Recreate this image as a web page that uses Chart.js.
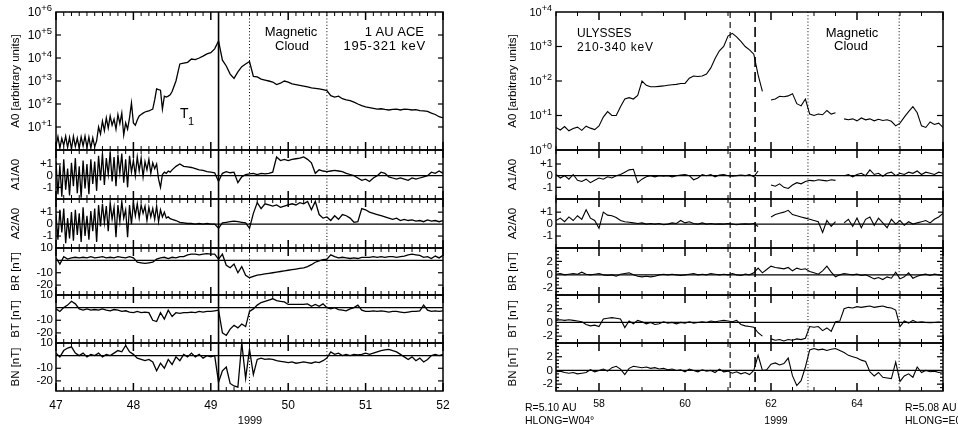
<!DOCTYPE html>
<html><head><meta charset="utf-8"><title>ACE and Ulysses particle anisotropies</title>
<script src="https://cdn.jsdelivr.net/npm/chart.js@4.4.1/dist/chart.umd.min.js"></script>
<style>
html,body{margin:0;padding:0;background:#fff;overflow:hidden;}
#wrap{position:relative;width:958px;height:428px;}
canvas{position:absolute;top:0;}
</style></head><body>
<div id="wrap">
<canvas id="ace" width="479" height="428" style="left:0;width:479px;height:428px"></canvas>
<canvas id="uly" width="479" height="428" style="left:479px;width:479px;height:428px"></canvas>
</div>
<script>
// ---------------- DATA : ACE (1 AU), day of 1999 ----------------
// particle panels (finer sampling in the noisy early part)
const aceTimeA = [47,47.025,47.05,47.075,47.1,47.125,47.15,47.175,47.2,47.225,
47.25,47.275,47.3,47.325,47.35,47.375,47.4,47.425,47.45,47.475,
47.5,47.525,47.55,47.575,47.6,47.625,47.65,47.675,47.7,47.725,
47.75,47.775,47.8,47.825,47.85,47.875,47.9,47.925,47.95,47.975,
48,48.025,48.05,48.075,48.1,48.125,48.15,48.175,48.2,48.225,
48.25,48.275,48.3,48.325,48.35,48.375,48.4,48.425,48.45,48.475,
48.5,
48.55,48.6,48.65,48.7,48.75,48.8,48.85,48.9,48.95,
49,49.05,49.1,49.15,49.2,49.25,49.3,49.35,49.4,49.45,
49.5,49.55,49.6,49.65,49.7,49.75,49.8,49.85,49.9,49.95,
50,50.05,50.1,50.15,50.2,50.25,50.3,50.35,50.4,50.45,
50.5,50.55,50.6,50.65,50.7,50.75,50.8,50.85,50.9,50.95,
51,51.05,51.1,51.15,51.2,51.25,51.3,51.35,51.4,51.45,
51.5,51.55,51.6,51.65,51.7,51.75,51.8,51.85,51.9,51.95,
52];
const aceA0 = [1.5,3.8,1.2,3.2,1.6,4.0,1.3,3.5,1.1,3.9,
1.4,3.3,1.2,3.7,1.5,4.0,1.3,3.6,1.2,3.4,
1.4,2.5,10,5,18,7,25,9,30,12,
22,8,35,14,40,4.5,15,8,25,110,
15,12,20,30,35,40,45,48,50,55,
60,150,450,420,400,60,220,200,220,250,
350,
1000,5500,6000,6500,9000,8500,10000,12000,15000,
17000,25000,55000,8000,4500,2000,1300,2500,4200,5500,
7000,1600,1500,1200,1100,1000,900,700,800,1000,
900,750,700,650,600,550,500,480,450,420,
380,230,200,220,170,150,140,120,100,85,
75,70,65,60,62,58,55,58,60,55,
60,58,55,57,52,50,48,40,35,28,
25];
const aceA1 = [1.2,-1.6,0.9,-1.8,1.4,-1.2,0.6,-1.7,1.1,-0.9,
1.5,-1.5,0.8,-1.9,1.3,-1.1,1.0,-1.6,1.4,-0.7,
1.2,-1.3,1.7,-0.4,1.9,-0.8,1.5,0.1,2.0,-0.5,
1.6,-0.9,1.8,0.2,1.9,-0.6,1.4,-1.0,1.7,0.3,
1.3,0.0,1.6,0.4,1.5,-0.1,1.2,0.5,1.4,0.2,
1.1,0.6,1.0,-0.3,-1.0,0.1,0.3,0.2,0.4,0.3,
0.5,
0.8,1.0,0.8,0.75,0.7,0.6,0.5,0.45,0.35,
0.3,0.25,-0.5,0.2,0.35,0.25,0.3,-0.6,-0.1,0.1,
0.15,0.2,0.1,0.2,0.15,0.2,0.3,1.6,1.3,1.4,
1.3,1.4,1.45,1.5,1.6,1.4,1.1,0.2,0.5,0.4,
0.35,0.4,0.45,0.4,0.35,0.2,0.1,0.0,-0.2,-0.4,
-0.3,-0.5,-0.2,0.0,0.3,0.2,-0.1,-0.2,-0.3,-0.2,
-0.3,-0.4,-0.2,-0.3,-0.2,-0.1,0.0,0.3,0.2,0.4,
0.2];
const aceA2 = [0.8,-1.3,1.2,-0.7,1.3,-1.6,0.5,-1.2,1.0,-1.4,
1.2,-0.9,0.9,-1.5,1.4,-1.0,0.7,-1.3,1.1,-0.6,
1.3,-1.5,1.6,-0.2,1.7,0.1,1.5,-0.6,1.8,0.4,
1.4,-1.1,1.6,0.2,1.9,0.5,1.2,-1.1,1.6,0.0,
1.8,0.7,1.7,0.5,1.6,0.9,1.5,0.3,1.4,0.6,
1.3,0.4,1.5,0.2,1.2,0.6,1.0,0.5,0.6,0.45,
0.4,
0.3,0.15,0.1,0.05,0.05,0.0,0.05,0.0,0.05,
0.0,0.0,-0.35,0.1,0.15,0.2,0.25,0.2,0.15,0.1,
-0.35,0.9,1.8,1.3,1.7,1.6,1.5,1.6,1.4,1.5,
1.6,1.7,1.6,1.8,1.7,1.9,1.2,1.9,0.8,0.5,
0.6,0.3,0.7,0.4,0.8,0.7,0.5,0.15,0.2,1.3,
1.2,1.0,0.9,0.8,0.7,0.6,0.5,0.4,0.5,0.3,
0.4,0.3,0.35,0.25,0.3,0.2,0.35,0.25,0.3,0.2,
0.3];
// magnetic field panels
const aceTimeB = [47,47.05,47.1,47.15,47.2,47.25,47.3,47.35,47.4,47.45,
47.5,47.55,47.6,47.65,47.7,47.75,47.8,47.85,47.9,47.95,
48,48.05,48.1,48.15,48.2,48.25,48.3,48.35,48.4,48.45,
48.5,48.55,48.6,48.65,48.7,48.75,48.8,48.85,48.9,48.95,
49,49.05,49.1,49.15,49.2,49.25,49.3,49.35,49.4,49.45,
49.5,49.55,49.6,49.65,49.7,49.75,49.8,49.85,49.9,49.95,
50,50.05,50.1,50.15,50.2,50.25,50.3,50.35,50.4,50.45,
50.5,50.55,50.6,50.65,50.7,50.75,50.8,50.85,50.9,50.95,
51,51.05,51.1,51.15,51.2,51.25,51.3,51.35,51.4,51.45,
51.5,51.55,51.6,51.65,51.7,51.75,51.8,51.85,51.9,51.95,
52];
const aceBR = [2,-3,3,1,2,2.5,2,2.5,2,3,
2,2.5,3,2,2.5,2,3,2.5,2,3,
2,-1.5,-2,-2.5,-2,-1.5,1,2,2.5,1.5,
2.5,2,3,3,4.5,5,5,4.5,5,5.5,
5,5,1,5,-4,-6,-3,-10,-5,-12,
-14,-13,-12,-11.5,-11,-10.5,-10,-9.5,-9,-8.5,
-8,-7.5,-7,-6.5,-6,-5,-3.5,-1.5,-0.5,0.5,
1,4.5,3,2,2.5,2,1.5,2,1.5,2.5,
2.5,2.5,3,2.5,3,2.5,3,3,2.5,3,
3.5,4.5,5,4.5,4,2.5,3,1.5,3.5,2,
4];
const aceBT = [-1,-3,0,2,5,3,-1,-2,-1,-2,
-1.5,-2,-1,-2,-2.5,-1.5,-2,-3,-2.5,-3.5,
-4,-3,-4,-3.5,-4,-10,-11,-4,-9,-2,
-7,-4,-4.5,-4,-4,-3.5,-4,-3,-3.5,-3,
-3,-2.5,-2,-20,-22,-17,-14,-16,-13,-15,
-3,-1,2,4,5,6,7,5.5,5,4.5,
2.5,2.5,2.5,2.5,2.5,3,1,2.5,1,3,
0,-1,0,-1.5,-2,-2.5,-1,0,2,-2,
-3,-3,-2.5,-3,-2.5,-3,-3.5,-3,-3,-3.5,
-4,-3.5,-3,-3,-2.5,2,-2,-3,-2.5,-3,
-2.5];
const aceBN = [2,-1,4,6,7,2,0,2,-1,1,
0,2,-1,1,0,2,4,3,8,3,
1,-2,-3,-4,-3,-5,-12,-6,-10,-3,
-7,-1,-4,1,-1,2,-1,1,-2,0,
-1,0,-21,-12,-9,-22,-24,-25,10,-18,
5,-15,-3,-2,-3,-2.5,-3,-4,-4.5,-5,
-5.5,-5,-6,-5.5,-5,-5.5,-6,-5,-5.5,-4,
-2,3,1,2,0,1,0,1,0.5,1,
2,1,2,3,4,4.5,5,4,3,1,
-1,-3,-1,-4,-2,-5,-3,0,1,0,
1];

// ---------------- DATA : Ulysses (5.1 AU), day of 1999 ----------------
const ulyTime = [57,57.1,57.2,57.3,57.4,57.5,57.6,57.7,57.8,57.9,
58,58.1,58.2,58.3,58.4,58.5,58.6,58.7,58.8,58.9,
59,59.1,59.2,59.3,59.4,59.5,59.6,59.7,59.8,59.9,
60,60.1,60.2,60.3,60.4,60.5,60.6,60.7,60.8,60.9,
61,61.1,61.2,61.3,61.4,61.5,61.6,61.7,61.8,61.9,
62,62.1,62.2,62.3,62.4,62.5,62.6,62.7,62.8,62.9,
63,63.1,63.2,63.3,63.4,63.5,63.6,63.7,63.8,63.9,
64,64.1,64.2,64.3,64.4,64.5,64.6,64.7,64.8,64.9,
65,65.1,65.2,65.3,65.4,65.5,65.6,65.7,65.8,65.9,
66];
const ulyA0 = [4.5,3.8,4.8,3.6,4.2,4.6,3.7,4.9,4.3,3.9,
5.0,9,13,10,10,18,30,33,30,38,
100,75,68,68,70,72,75,78,80,85,
85,120,140,135,140,160,240,450,750,1000,
2000,2400,1900,1400,1000,800,600,150,50,null,
28,30,36,35,37,43,22,19,30,11,
10,11,10.5,14,11,12,null,8,7.5,8,
7,8.5,7.5,8,7,7.8,7.2,7.5,6.8,5,
6,9,13,18,12,5,4.5,6.5,5.5,6,
4.5];
const ulyA1 = [0.1,-0.2,0.0,-0.3,0.1,-0.4,-0.5,-0.3,-0.6,-0.4,
-0.2,-0.3,-0.1,-0.2,0.0,0.1,0.3,0.5,0.55,-0.6,
-0.3,-0.1,0.0,-0.1,0.0,-0.05,0.0,-0.1,0.0,0.05,
0.1,0.0,-0.35,-0.2,0.1,0.0,0.1,-0.1,0.05,0.1,
0.0,-0.05,0.0,0.05,0.0,0.1,-0.1,0.4,null,null,
-0.8,-0.9,-0.7,-1.0,-1.1,-0.8,-0.6,-0.7,-0.5,-0.4,
-0.45,-0.35,-0.4,-0.45,-0.35,-0.4,null,0.0,0.1,-0.1,
0.1,0.2,0.0,0.5,0.1,0.2,-0.05,0.2,0.3,0.0,
0.2,0.1,0.3,0.2,0.4,0.1,0.3,0.2,0.1,0.3,
0.2];
const ulyA2 = [0.3,0.5,0.2,0.6,0.3,0.7,0.4,1.2,0.5,0.3,
-0.35,1.0,0.75,0.7,0.55,0.3,0.2,0.15,0.1,0.05,
0.1,0.0,0.05,0.0,0.05,-0.05,0.0,0.1,0.05,0.3,
0.1,0.2,0.05,0.0,0.1,0.0,0.05,0.0,0.02,0.0,
0.05,0.0,-0.05,0.0,0.02,0.0,0.05,-0.2,null,null,
0.6,0.8,0.9,1.0,1.15,0.8,0.7,0.6,0.5,0.4,
0.3,0.2,-0.7,0.3,-0.2,0.2,null,0.1,0.4,-0.2,
0.5,-0.3,0.4,0.6,-0.1,0.5,0.1,-0.3,0.4,0.0,
0.3,-0.1,0.2,0.0,0.1,0.2,0.3,0.1,0.4,0.6,
0.9];
const ulyBR = [0.1,0.2,0.0,0.1,0.2,0.1,0.4,0.1,0.0,0.1,
0.2,0.0,-0.1,0.0,-0.2,0.1,0.2,0.3,0.0,-0.2,
-0.3,-0.2,-0.3,-0.2,0.0,0.1,0.0,0.1,0.0,-0.1,
0.0,0.1,0.2,0.0,0.1,0.0,0.2,0.1,0.0,0.1,
0.0,0.2,0.0,-0.1,0.1,0.0,0.3,1.0,0.3,0.8,
1.3,1.1,1.0,0.9,1.1,0.6,1.0,0.8,0.9,0.5,
0.3,0.1,0.6,1.3,0.4,-0.3,0.0,0.2,0.1,0.0,
0.1,-0.1,0.0,-0.3,-0.6,-0.4,-0.7,-0.3,-0.5,0.4,
-0.6,-0.3,0.3,-0.5,-0.2,0.0,0.1,-0.1,0.1,0.0,
-0.1];
const ulyBT = [0.3,0.4,0.3,0.4,0.3,0.2,0.1,-0.3,-0.5,-0.4,
-0.6,0.5,0.6,0.7,0.6,0.5,-0.75,0.2,-0.2,0.3,
0.1,-0.2,0.0,-0.3,-0.2,0.1,-0.1,0.0,-0.2,0.0,
-0.1,0.1,-0.1,0.0,0.1,0.0,0.2,0.1,0.2,0.3,
0.2,0.1,0.3,-0.3,-0.5,-0.6,-0.7,-1.5,-2.0,null,
-2.4,-2.6,-2.5,-2.7,-2.5,-2.6,-2.4,-2.5,-2.3,-0.6,
-0.7,-0.6,-1.2,-0.8,-1.3,0.1,0.2,2.0,2.2,2.1,
2.3,2.2,2.3,2.4,2.2,2.3,2.4,2.2,2.1,1.8,
-0.6,0.2,-0.1,0.3,0.0,0.1,0.0,-0.05,0.0,0.05,
0.0];
const ulyBN = [-0.2,-0.1,-0.3,-0.4,-0.3,-0.5,-0.4,-0.3,0.1,-0.2,
0.0,0.2,-0.1,0.4,0.6,0.2,-0.6,0.3,0.6,0.5,
0.4,0.5,0.3,0.4,0.2,0.3,0.1,0.2,0.0,0.1,
-0.2,0.2,0.0,-0.2,0.1,-0.1,0.0,-0.3,0.2,-0.2,
-0.1,-0.4,-0.2,-0.5,-0.3,-0.6,0.0,2.2,0.0,0.1,
0.9,1.1,0.8,1.0,1.8,-0.8,-2.2,-1.5,0.5,3.0,
3.2,3.0,3.1,2.9,3.1,3.2,2.9,2.6,2.2,2.0,
1.8,1.5,1.3,-0.2,-0.8,-0.3,-1.0,-1.1,-1.2,1.2,
-1.6,-0.8,-0.5,-1.0,0.5,-0.3,0.0,-0.2,-0.1,-0.3,
-0.2];

// ---------------- tick labels / categories ----------------
const panelTitles = ['A0 [arbitrary units]','A1/A0','A2/A0','BR [nT]','BT [nT]','BN [nT]'];
const aceDayTicks = [47,48,49,50,51,52];
const ulyDayTicks = [58,60,62,64];
const aceLogExps = [1,2,3,4,5,6];
const ulyLogExps = [0,1,2,3,4];
const ratioTicks = [-1,0,1];
const aceFieldTicks = [-20,-10,10];
const ulyFieldTicks = [-2,0,2];
const aceEvents = {solid:[49.1], dotted:[49.5,50.5]};
const ulyEvents = {dashed:[61.05], longDashed:[61.63], dotted:[62.86,64.98]};

// ---------------- drawing ----------------
const FONT = '"Liberation Sans", Arial, Helvetica, sans-serif';
const IDS = ['yA0','yA1','yA2','yBR','yBT','yBN'];
function seg(ctx,x1,y1,x2,y2){ctx.beginPath();ctx.moveTo(x1,y1);ctx.lineTo(x2,y2);ctx.stroke();}
function txt(ctx,s,x,y,size,align,spacing){
  ctx.font = size+'px '+FONT; ctx.textAlign = align||'left'; ctx.textBaseline='alphabetic';
  try{ ctx.letterSpacing = (spacing||0)+'px'; }catch(e){}
  ctx.fillText(s,x,y);
  try{ ctx.letterSpacing = '0px'; }catch(e){}
}
function drawPow(ctx,k,xr,y,base,sup){
  const s = '+'+k;
  ctx.font = sup+'px '+FONT; const ws = ctx.measureText(s).width;
  ctx.font = base+'px '+FONT; const wb = ctx.measureText('10').width;
  ctx.textAlign='left'; ctx.textBaseline='alphabetic';
  ctx.fillText('10', xr-ws-wb, y+base*0.36);
  ctx.font = sup+'px '+FONT; ctx.fillText(s, xr-ws, y-1);
}

function makeFigure(canvasId, f){
  const series = [f.a0,f.a1,f.a2,f.br,f.bt,f.bn];
  const times = [f.timeA,f.timeA,f.timeA,f.timeB,f.timeB,f.timeB];
  const datasets = series.map((v,i)=>({
    data: times[i].map((t,j)=>({x:t,y:v[j]})),
    xAxisID:'x', yAxisID:IDS[i],
    borderColor:'#000', backgroundColor:'#000', borderWidth:f.lw,
    pointRadius:0, tension:0, spanGaps:false, fill:false
  }));
  const weights = [138,49,49,47,48,48];
  const scales = {
    x:{type:'linear', position:'bottom', min:f.xmin, max:f.xmax,
      afterFit:s=>{s.height=37;},
      afterBuildTicks:s=>{s.ticks=f.xTicks.map(v=>({value:v}));},
      grid:{display:false,drawTicks:false}, border:{display:false},
      ticks:{autoSkip:false,maxRotation:0,padding:f.xPad,color:'#000',font:{family:FONT,size:f.xFont},callback:v=>String(v)}
    }
  };
  IDS.forEach((id,i)=>{
    const isLog = i===0;
    scales[id] = {
      type: isLog?'logarithmic':'linear', position:'left', stack:'panels',
      stackWeight:weights[i], weight:6-i, min:f.ranges[i][0], max:f.ranges[i][1],
      afterFit:s=>{s.width=f.yw;},
      afterBuildTicks:s=>{ if(!isLog) s.ticks=f.yTicks[i].map(v=>({value:v})); },
      grid:{display:false,drawTicks:false}, border:{display:false},
      ticks:{display:!isLog,autoSkip:false,padding:3,color:'#000',font:{family:FONT,size:f.yFont},
        callback:v=> (i<=2 && v>0) ? '+'+v : String(v)},
      title:{display:true,text:panelTitles[i],color:'#000',font:{family:FONT,size:11.5},padding:{top:f.titlePad,bottom:0}}
    };
  });
  const plugin = {
    id:'panels',
    beforeDatasetsDraw(chart){
      const {ctx,chartArea:ca}=chart;
      ctx.save(); ctx.strokeStyle='#000'; ctx.lineWidth=1.2;
      IDS.slice(1).forEach(id=>{
        const y = chart.scales[id].getPixelForValue(0);
        seg(ctx,ca.left,y,ca.right,y);
      });
      ctx.restore();
    },
    afterDraw(chart){
      const {ctx,chartArea:ca}=chart; const xs=chart.scales.x;
      ctx.save(); ctx.strokeStyle='#000'; ctx.fillStyle='#000';
      const vl = (list,dash,w)=>{ (list||[]).forEach(d=>{ const px=xs.getPixelForValue(d);
        ctx.setLineDash(dash); ctx.lineWidth=w; seg(ctx,px,ca.top,px,ca.bottom); }); ctx.setLineDash([]); };
      vl(f.events.solid,[],1.6);
      vl(f.events.dashed,[6,4],1.1);
      vl(f.events.longDashed,[10,5],1.6);
      vl(f.events.dotted,[1,2.2],1);
      IDS.forEach((id,i)=>{
        const s=chart.scales[id];
        ctx.lineWidth=1.5;
        ctx.strokeRect(ca.left,s.top,ca.right-ca.left,s.bottom-s.top);
        const n=Math.round((f.xmax-f.xmin)/f.xMinor);
        for(let k=0;k<=n;k++){
          const v=f.xmin+k*f.xMinor; const px=xs.getPixelForValue(v);
          const major=f.isMajorX(v); const len=major?8:4;
          ctx.lineWidth=major?1.5:1;
          seg(ctx,px,s.top,px,s.top+len); seg(ctx,px,s.bottom-len,px,s.bottom);
        }
        f.yMarks(i).forEach(([v,len])=>{
          const py=s.getPixelForValue(v); ctx.lineWidth=1.2;
          seg(ctx,ca.left,py,ca.left+len,py); seg(ctx,ca.right-len,py,ca.right,py);
        });
      });
      const sA0=chart.scales.yA0;
      f.logExps.forEach(k=>drawPow(ctx,k,ca.left-4,sA0.getPixelForValue(Math.pow(10,k)),f.powBase,f.powSup));
      f.annotate(ctx,chart);
      ctx.restore();
    }
  };
  return new Chart(document.getElementById(canvasId),{
    type:'line', data:{datasets},
    options:{responsive:false,devicePixelRatio:1,animation:false,events:[],
      layout:{padding:{left:0,top:12,right:f.padRight,bottom:0}},
      plugins:{legend:{display:false},tooltip:{enabled:false}},
      scales},
    plugins:[plugin]
  });
}

makeFigure('ace',{
  timeA:aceTimeA, timeB:aceTimeB, a0:aceA0, a1:aceA1, a2:aceA2, br:aceBR, bt:aceBT, bn:aceBN,
  xmin:47, xmax:52, xTicks:aceDayTicks, xMinor:0.1,
  isMajorX:v=>Math.abs(v-Math.round(v))<1e-6,
  ranges:[[1,1e6],[-2,2.2],[-2,2.1],[-28,10],[-28,10],[-28,10]],
  yTicks:[[],ratioTicks,ratioTicks,aceFieldTicks,aceFieldTicks,aceFieldTicks],
  yMarks:i=> i===0 ? [1,2,3,4,5].map(k=>[Math.pow(10,k),5])
            : i<=2 ? [[-1,5],[1,5]] : [[-20,5],[-10,5]],
  logExps:aceLogExps, powBase:12, powSup:9.5,
  events:aceEvents, yw:56, padRight:36, titlePad:9, xPad:7, xFont:12, yFont:11.5, lw:1.3,
  annotate:(ctx)=>{
    txt(ctx,'Magnetic',291,36,13,'center');
    txt(ctx,'Cloud',292,50,13,'center');
    txt(ctx,'1 AU ACE',424,36,13,'right');
    txt(ctx,'195-321 keV',426,50,13,'right',0.8);
    txt(ctx,'T',180,118,14,'left');
    txt(ctx,'1',188,125,11,'left');
    txt(ctx,'1999',250,424,11,'center');
  }
});

makeFigure('uly',{
  timeA:ulyTime, timeB:ulyTime, a0:ulyA0, a1:ulyA1, a2:ulyA2, br:ulyBR, bt:ulyBT, bn:ulyBN,
  xmin:57, xmax:66, xTicks:ulyDayTicks, xMinor:0.5,
  isMajorX:v=>Math.abs(v-Math.round(v))<1e-6 && Math.round(v)%2===0,
  ranges:[[1,1e4],[-2,2.2],[-2,2.1],[-3,4],[-3,4],[-3,4]],
  yTicks:[[],ratioTicks,ratioTicks,ulyFieldTicks,ulyFieldTicks,ulyFieldTicks],
  yMarks:i=>{
    if(i===0) return [1,2,3].map(k=>[Math.pow(10,k),6]);
    if(i<=2) return [[-1,5],[1,5]];
    const m=[]; for(let k=-5;k<=7;k++){ if(k===0) continue; m.push([k*0.5, (k%4===0)?6:3]); }
    return m;
  },
  logExps:ulyLogExps, powBase:11, powSup:9,
  events:ulyEvents, yw:77, padRight:15, titlePad:27, xPad:7, xFont:10.5, yFont:11.5, lw:1.1,
  annotate:(ctx)=>{
    txt(ctx,'ULYSSES',98,37,12,'left');
    txt(ctx,'210-340 keV',98,51,12,'left',0.8);
    txt(ctx,'Magnetic',373,37,13,'center');
    txt(ctx,'Cloud',372,50,13,'center');
    txt(ctx,'1999',297,424,10.5,'center');
    txt(ctx,'R=5.10 AU',46,411,10.5,'left');
    txt(ctx,'HLONG=W04\u00b0',46,424,10.5,'left');
    txt(ctx,'R=5.08 AU',426,411,10.5,'left');
    txt(ctx,'HLONG=E05\u00b0',426,424,10.5,'left');
  }
});
</script></body></html>
